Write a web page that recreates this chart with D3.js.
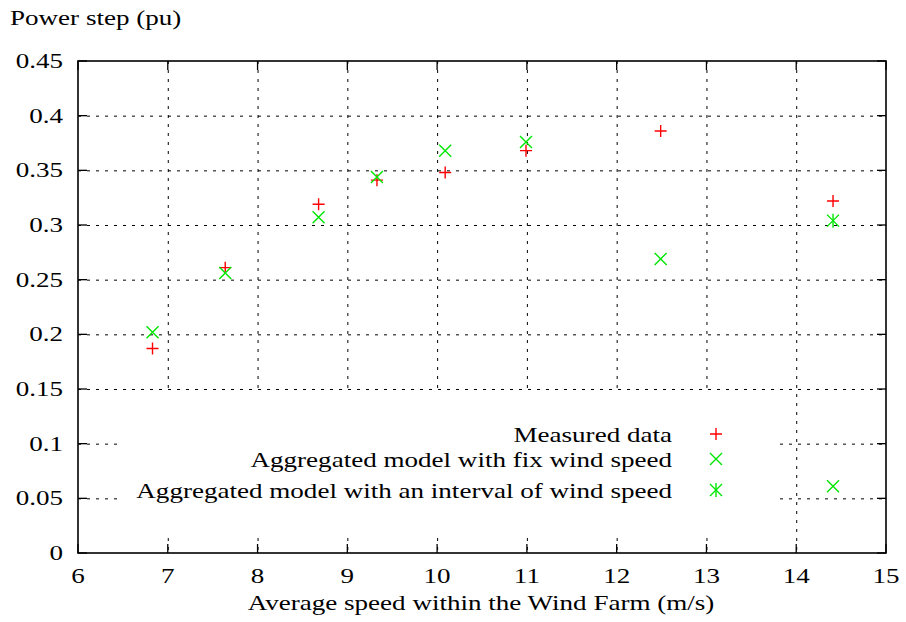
<!DOCTYPE html>
<html><head><meta charset="utf-8">
<script src="https://cdn.jsdelivr.net/npm/d3@7"></script>
<style>
html,body{margin:0;padding:0;background:#fff;}
text{font-family:"Liberation Serif","Times New Roman",serif;fill:#000;}
</style></head>
<body><svg id="c" width="906" height="622"></svg>
<script>
const speeds = [6.83, 7.64, 8.68, 9.33, 10.09, 10.99, 12.49, 14.41];
const measured = [0.187, 0.261, 0.319, 0.341, 0.348, 0.368, 0.386, 0.322];
const fixModel = [0.202, 0.256, 0.307, 0.344, 0.368, 0.376, 0.269, 0.061];
const intervalSpeeds = [14.41];
const intervalModel = [0.304];
const xTicks = [6,7,8,9,10,11,12,13,14,15];
const yTicks = [0,0.05,0.1,0.15,0.2,0.25,0.3,0.35,0.4,0.45];
const legendLabels = ["Measured data","Aggregated model with fix wind speed","Aggregated model with an interval of wind speed"];
const xTitle = "Average speed within the Wind Farm (m/s)";
const yTitle = "Power step (pu)";

const svg = d3.select("#c");
const L=78,R=886,T=61,B=553;
const x = d3.scaleLinear().domain([6,15]).range([L,R]);
const y = d3.scaleLinear().domain([0,0.45]).range([B,T]);
const RED="#ff0000", GREEN="#00e600";
const SX=1.32, FS=20.5;

function stext(g, str, tx, ty, anchor){
  return g.append("text").attr("transform",`translate(${tx},${ty}) scale(${SX},1)`)
    .attr("text-anchor",anchor).style("font-size",FS+"px").text(str);
}

// grid
const grid = svg.append("g").attr("stroke","#000").attr("stroke-width",1).attr("stroke-dasharray","3,6");
grid.selectAll("line.v").data(xTicks.slice(1,-1)).join("line")
  .attr("x1",d=>x(d)+0.5).attr("x2",d=>x(d)+0.5).attr("y1",T).attr("y2",B);
grid.selectAll("line.h").data(yTicks.slice(1,-1)).join("line")
  .attr("x1",L).attr("x2",R).attr("y1",d=>y(d)+0.5).attr("y2",d=>y(d)+0.5);

// legend background
svg.append("rect").attr("x",117).attr("y",393).attr("width",658).attr("height",143).attr("fill","#fff");

// axes with ticks (mirrored)
const tk=9;
const ax = svg.append("g").attr("stroke","#000").attr("stroke-width",1.3);
xTicks.forEach(d=>{
  ax.append("line").attr("x1",x(d)).attr("x2",x(d)).attr("y1",B).attr("y2",B-tk);
  ax.append("line").attr("x1",x(d)).attr("x2",x(d)).attr("y1",T).attr("y2",T+tk);
});
yTicks.forEach(d=>{
  ax.append("line").attr("x1",L).attr("x2",L+tk).attr("y1",y(d)).attr("y2",y(d));
  ax.append("line").attr("x1",R).attr("x2",R-tk).attr("y1",y(d)).attr("y2",y(d));
});
svg.append("rect").attr("x",L).attr("y",T).attr("width",R-L).attr("height",B-T)
  .attr("fill","none").attr("stroke","#000").attr("stroke-width",1.6);

// tick labels
const tl = svg.append("g");
xTicks.forEach(d=>stext(tl, String(d), x(d), B+30, "middle"));
yTicks.forEach(d=>stext(tl, String(d), 63, y(d)+7, "end"));
stext(svg, xTitle, 481, 610, "middle");
stext(svg, yTitle, 10, 25, "start");

// markers
const s=6;
function plus(g,cx,cy,col){
  g.append("path").attr("d",`M${cx-s},${cy}H${cx+s}M${cx},${cy-s}V${cy+s}`).attr("stroke",col).attr("stroke-width",1.4).attr("fill","none");
}
function cross(g,cx,cy,col){
  g.append("path").attr("d",`M${cx-s},${cy-s}L${cx+s},${cy+s}M${cx-s},${cy+s}L${cx+s},${cy-s}`).attr("stroke",col).attr("stroke-width",1.4).attr("fill","none");
}
function star(g,cx,cy,col){
  cross(g,cx,cy,col);
  g.append("path").attr("d",`M${cx},${cy-s-1}V${cy+s+1}`).attr("stroke",col).attr("stroke-width",1.4).attr("fill","none");
}
const pts = svg.append("g");
speeds.forEach((v,i)=>plus(pts,x(v),y(measured[i]),RED));
speeds.forEach((v,i)=>cross(pts,x(v),y(fixModel[i]),GREEN));
intervalSpeeds.forEach((v,i)=>star(pts,x(v),y(intervalModel[i]),GREEN));

// legend
const lg = svg.append("g");
const rows=[434,459,490];
const fns=[[plus,RED],[cross,GREEN],[star,GREEN]];
legendLabels.forEach((t,i)=>{
  stext(lg, t, 672, rows[i]+8, "end");
  fns[i][0](lg,716,rows[i],fns[i][1]);
});
</script></body></html>
